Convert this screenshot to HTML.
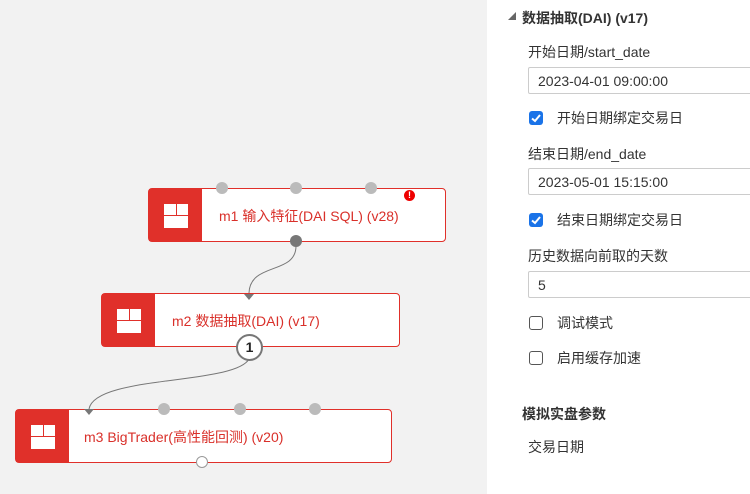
<!DOCTYPE html>
<html><head><meta charset="utf-8"><style>
*{margin:0;padding:0;box-sizing:border-box}
body{width:750px;height:494px;overflow:hidden;background:#f2f2f2;font-family:"Liberation Sans","Noto Sans CJK SC",sans-serif;position:relative}
.abs{position:absolute}
.node{position:absolute;background:#fff;border:1.5px solid #e0302a;border-radius:4px;height:54px}
.node .red{position:absolute;left:0;top:0;bottom:0;width:53px;background:#e0302a}
.node .ic{position:absolute;left:15px;top:15px;width:24px;height:24px;background:#fff}
.node .ic:before{content:"";position:absolute;left:0;right:0;top:11px;height:1px;background:#e0302a}
.node .ic:after{content:"";position:absolute;left:12px;top:0;height:11px;width:1px;background:#e0302a}
.node .t{position:absolute;top:17px;font-size:14px;color:#d9302a;white-space:nowrap}
.port{position:absolute;width:12px;height:12px;border-radius:50%;background:#bbb}
.panel{position:absolute;left:487px;top:0;width:263px;height:494px;background:#fff}
.lbl{position:absolute;left:41px;font-size:14px;color:#333;white-space:nowrap}
.inp{position:absolute;left:41px;width:230px;height:27px;border:1px solid #ccc;border-radius:2px;font-size:14px;color:#333;padding:5px 0 0 9px}
.cb{position:absolute;left:42px;width:14px;height:14px;border-radius:3px}
.cb.on{background:#1a73e8}
.cb.off{border:1.5px solid #555;background:#fff}
</style></head><body>
<div class="node" style="left:148px;top:188px;width:298px"><div class="red"></div><div class="ic"></div><div class="t" style="left:70px">m1 输入特征(DAI SQL) (v28)</div></div>
<div class="port" style="left:216px;top:182px"></div>
<div class="port" style="left:290px;top:182px"></div>
<div class="port" style="left:365px;top:182px"></div>
<div class="port" style="left:290px;top:235px;background:#777"></div>
<div class="abs" style="left:404px;top:190px;width:11px;height:11px;border-radius:50%;background:#e00;color:#fff;font-size:9px;font-weight:bold;text-align:center;line-height:11px">!</div>
<div class="node" style="left:101px;top:293px;width:299px"><div class="red"></div><div class="ic"></div><div class="t" style="left:70px">m2 数据抽取(DAI) (v17)</div></div>
<div class="node" style="left:15px;top:409px;width:377px"><div class="red"></div><div class="ic"></div><div class="t" style="left:68px">m3 BigTrader(高性能回测) (v20)</div></div>
<div class="port" style="left:158px;top:403px"></div>
<div class="port" style="left:234px;top:403px"></div>
<div class="port" style="left:309px;top:403px"></div>
<div class="abs" style="left:196px;top:456px;width:12px;height:12px;border-radius:50%;background:#fff;border:1px solid #999"></div>
<svg class="abs" style="left:0;top:0" width="487" height="494">
<path d="M296 246 C296 275,250 262,249 293" stroke="#777" fill="none" stroke-width="1"/>
<path d="M249 359 C235 385,95 375,89 409" stroke="#777" fill="none" stroke-width="1"/>
<polygon points="244,294 254,294 249,300" fill="#777"/>
<polygon points="84,409 94,409 89,415" fill="#777"/>
</svg>
<div class="abs" style="left:236px;top:334px;width:27px;height:27px;border-radius:50%;background:#fff;border:2px solid #777;font-size:14px;font-weight:bold;text-align:center;line-height:23px;color:#222">1</div>
<div class="panel">
<div class="abs" style="left:21px;top:11px;font-size:8px;color:#666">◢</div>
<div class="abs" style="left:35px;top:8px;font-size:14px;font-weight:bold;color:#333">数据抽取(DAI) (v17)</div>
<div class="lbl" style="top:42px">开始日期/start_date</div>
<div class="inp" style="top:67px">2023-04-01 09:00:00</div>
<div class="cb on" style="top:111px"><svg width="14" height="14"><path d="M3 7.5 L6 10 L11 4" stroke="#fff" stroke-width="2" fill="none"/></svg></div><div class="lbl" style="left:70px;top:108px">开始日期绑定交易日</div>
<div class="lbl" style="top:144px">结束日期/end_date</div>
<div class="inp" style="top:168px">2023-05-01 15:15:00</div>
<div class="cb on" style="top:213px"><svg width="14" height="14"><path d="M3 7.5 L6 10 L11 4" stroke="#fff" stroke-width="2" fill="none"/></svg></div><div class="lbl" style="left:70px;top:210px">结束日期绑定交易日</div>
<div class="lbl" style="top:246px">历史数据向前取的天数</div>
<div class="inp" style="top:271px">5</div>
<div class="cb off" style="top:316px"></div><div class="lbl" style="left:70px;top:313px">调试模式</div>
<div class="cb off" style="top:351px"></div><div class="lbl" style="left:70px;top:348px">启用缓存加速</div>
<div class="abs" style="left:35px;top:404px;font-size:14px;font-weight:bold;color:#333">模拟实盘参数</div>
<div class="lbl" style="top:437px">交易日期</div>
</div>
</body></html>
